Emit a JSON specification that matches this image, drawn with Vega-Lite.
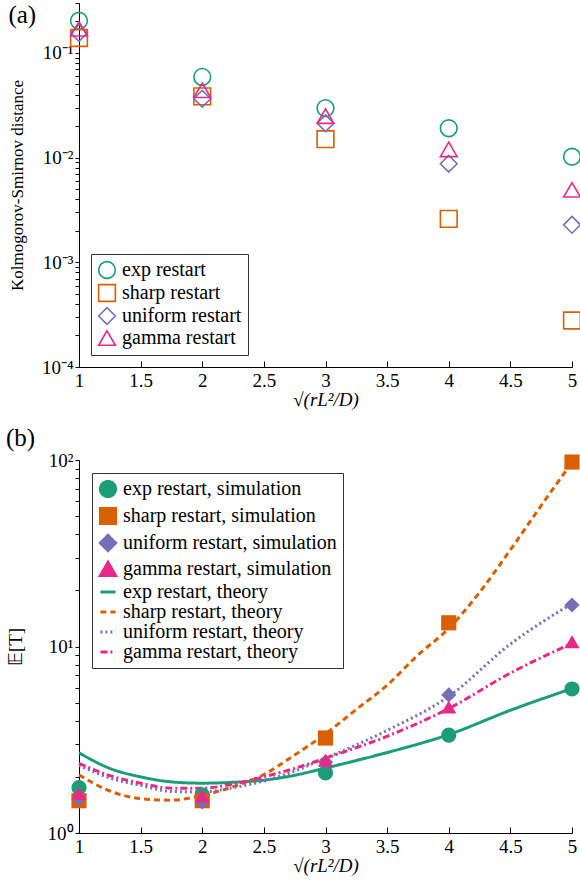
{
  "$schema": "https://vega.github.io/schema/vega-lite/v6.json",
  "background": "white",
  "padding": {"left": 6, "top": 2, "right": 5, "bottom": 5},
  "config": {
    "font": "Liberation Serif",
    "view": {"stroke": null},
    "axis": {
      "grid": false, "domainColor": "black", "tickColor": "black", "labelColor": "black", "titleColor": "black",
      "labelFont": "Liberation Serif", "titleFont": "Liberation Serif", "labelFontSize": 19, "titleFontSize": 19,
      "titleFontWeight": "normal", "domainWidth": 1, "tickWidth": 1, "labelFlush": false
    },
    "legend": {
      "labelFont": "Liberation Serif", "labelFontSize": 20, "labelColor": "black", "strokeColor": "#333",
      "fillColor": "white", "padding": 6, "rowPadding": -1, "labelOffset": 5, "cornerRadius": 0, "labelLimit": 400
    },
    "title": {"font": "Liberation Serif", "fontSize": 25, "fontWeight": "normal", "color": "black", "anchor": "start", "frame": "bounds"}
  },
  "datasets": {
    "ks": [
      {"x": 1, "ks": 0.203, "series": "exp restart"},
      {"x": 2, "ks": 0.059, "series": "exp restart"},
      {"x": 3, "ks": 0.0297, "series": "exp restart"},
      {"x": 4, "ks": 0.0191, "series": "exp restart"},
      {"x": 5, "ks": 0.0102, "series": "exp restart"},
      {"x": 1, "ks": 0.139, "series": "sharp restart"},
      {"x": 2, "ks": 0.0385, "series": "sharp restart"},
      {"x": 3, "ks": 0.015, "series": "sharp restart"},
      {"x": 4, "ks": 0.0026, "series": "sharp restart"},
      {"x": 5, "ks": 0.000278, "series": "sharp restart"},
      {"x": 1, "ks": 0.155, "series": "uniform restart"},
      {"x": 2, "ks": 0.0365, "series": "uniform restart"},
      {"x": 3, "ks": 0.0213, "series": "uniform restart"},
      {"x": 4, "ks": 0.00875, "series": "uniform restart"},
      {"x": 5, "ks": 0.00228, "series": "uniform restart"},
      {"x": 1, "ks": 0.17, "series": "gamma restart"},
      {"x": 2, "ks": 0.044, "series": "gamma restart"},
      {"x": 3, "ks": 0.0249, "series": "gamma restart"},
      {"x": 4, "ks": 0.012, "series": "gamma restart"},
      {"x": 5, "ks": 0.00493, "series": "gamma restart"}
    ],
    "sim": [
      {"x": 1, "t": 1.75, "series": "exp restart, simulation"},
      {"x": 2, "t": 1.6, "series": "exp restart, simulation"},
      {"x": 3, "t": 2.1, "series": "exp restart, simulation"},
      {"x": 4, "t": 3.35, "series": "exp restart, simulation"},
      {"x": 5, "t": 5.92, "series": "exp restart, simulation"},
      {"x": 1, "t": 1.49, "series": "sharp restart, simulation"},
      {"x": 2, "t": 1.49, "series": "sharp restart, simulation"},
      {"x": 3, "t": 3.23, "series": "sharp restart, simulation"},
      {"x": 4, "t": 13.4, "series": "sharp restart, simulation"},
      {"x": 5, "t": 97.5, "series": "sharp restart, simulation"},
      {"x": 1, "t": 1.53, "series": "uniform restart, simulation"},
      {"x": 2, "t": 1.47, "series": "uniform restart, simulation"},
      {"x": 3, "t": 2.4, "series": "uniform restart, simulation"},
      {"x": 4, "t": 5.5, "series": "uniform restart, simulation"},
      {"x": 5, "t": 16.7, "series": "uniform restart, simulation"},
      {"x": 1, "t": 1.63, "series": "gamma restart, simulation"},
      {"x": 2, "t": 1.58, "series": "gamma restart, simulation"},
      {"x": 3, "t": 2.46, "series": "gamma restart, simulation"},
      {"x": 4, "t": 4.74, "series": "gamma restart, simulation"},
      {"x": 5, "t": 10.6, "series": "gamma restart, simulation"}
    ],
    "theory": [
      {"x": 1, "t": 2.69, "series": "exp restart, theory"},
      {"x": 1.25, "t": 2.22, "series": "exp restart, theory"},
      {"x": 1.5, "t": 2.0, "series": "exp restart, theory"},
      {"x": 1.75, "t": 1.88, "series": "exp restart, theory"},
      {"x": 2, "t": 1.85, "series": "exp restart, theory"},
      {"x": 2.25, "t": 1.87, "series": "exp restart, theory"},
      {"x": 2.5, "t": 1.92, "series": "exp restart, theory"},
      {"x": 2.75, "t": 2.04, "series": "exp restart, theory"},
      {"x": 3, "t": 2.23, "series": "exp restart, theory"},
      {"x": 3.5, "t": 2.7, "series": "exp restart, theory"},
      {"x": 4, "t": 3.37, "series": "exp restart, theory"},
      {"x": 4.5, "t": 4.55, "series": "exp restart, theory"},
      {"x": 5, "t": 5.95, "series": "exp restart, theory"},
      {"x": 1, "t": 2.05, "series": "sharp restart, theory"},
      {"x": 1.25, "t": 1.68, "series": "sharp restart, theory"},
      {"x": 1.5, "t": 1.53, "series": "sharp restart, theory"},
      {"x": 1.75, "t": 1.5, "series": "sharp restart, theory"},
      {"x": 2, "t": 1.59, "series": "sharp restart, theory"},
      {"x": 2.25, "t": 1.77, "series": "sharp restart, theory"},
      {"x": 2.5, "t": 2.06, "series": "sharp restart, theory"},
      {"x": 2.75, "t": 2.62, "series": "sharp restart, theory"},
      {"x": 3, "t": 3.4, "series": "sharp restart, theory"},
      {"x": 3.25, "t": 4.6, "series": "sharp restart, theory"},
      {"x": 3.5, "t": 6.2, "series": "sharp restart, theory"},
      {"x": 3.75, "t": 9.0, "series": "sharp restart, theory"},
      {"x": 4, "t": 12.5, "series": "sharp restart, theory"},
      {"x": 4.25, "t": 19.5, "series": "sharp restart, theory"},
      {"x": 4.5, "t": 33, "series": "sharp restart, theory"},
      {"x": 4.75, "t": 57, "series": "sharp restart, theory"},
      {"x": 5, "t": 97, "series": "sharp restart, theory"},
      {"x": 1, "t": 2.31, "series": "uniform restart, theory"},
      {"x": 1.25, "t": 1.97, "series": "uniform restart, theory"},
      {"x": 1.5, "t": 1.8, "series": "uniform restart, theory"},
      {"x": 1.75, "t": 1.67, "series": "uniform restart, theory"},
      {"x": 2, "t": 1.66, "series": "uniform restart, theory"},
      {"x": 2.25, "t": 1.75, "series": "uniform restart, theory"},
      {"x": 2.5, "t": 1.9, "series": "uniform restart, theory"},
      {"x": 2.75, "t": 2.15, "series": "uniform restart, theory"},
      {"x": 3, "t": 2.52, "series": "uniform restart, theory"},
      {"x": 3.5, "t": 3.55, "series": "uniform restart, theory"},
      {"x": 4, "t": 5.4, "series": "uniform restart, theory"},
      {"x": 4.5, "t": 10.3, "series": "uniform restart, theory"},
      {"x": 5, "t": 17, "series": "uniform restart, theory"},
      {"x": 1, "t": 2.36, "series": "gamma restart, theory"},
      {"x": 1.25, "t": 2.03, "series": "gamma restart, theory"},
      {"x": 1.5, "t": 1.85, "series": "gamma restart, theory"},
      {"x": 1.75, "t": 1.74, "series": "gamma restart, theory"},
      {"x": 2, "t": 1.74, "series": "gamma restart, theory"},
      {"x": 2.25, "t": 1.83, "series": "gamma restart, theory"},
      {"x": 2.5, "t": 2.0, "series": "gamma restart, theory"},
      {"x": 2.75, "t": 2.22, "series": "gamma restart, theory"},
      {"x": 3, "t": 2.52, "series": "gamma restart, theory"},
      {"x": 3.5, "t": 3.3, "series": "gamma restart, theory"},
      {"x": 4, "t": 4.65, "series": "gamma restart, theory"},
      {"x": 4.5, "t": 7.2, "series": "gamma restart, theory"},
      {"x": 5, "t": 10.4, "series": "gamma restart, theory"}
    ]
  },
  "columns": 1,
  "align": "none",
  "spacing": 17,
  "resolve": {
    "scale": {"color": "independent", "shape": "independent", "strokeDash": "independent", "x": "independent", "y": "independent"},
    "legend": {"color": "independent", "shape": "independent", "strokeDash": "independent"}
  },
  "concat": [
    {
      "width": 493,
      "height": 364,
      "title": {"text": "(a)", "offset": -25},
      "data": {"name": "ks"},
      "mark": {"type": "point", "filled": false, "size": 280, "strokeWidth": 1.6, "opacity": 1},
      "encoding": {
        "x": {
          "field": "x", "type": "quantitative",
          "scale": {"domain": [1, 5], "nice": false, "zero": false},
          "axis": {"values": [1, 1.5, 2, 2.5, 3, 3.5, 4, 4.5, 5], "format": "~g", "title": "√(rL²/D)", "titleFontStyle": "italic", "tickSize": -6, "labelPadding": 10, "titlePadding": 0}
        },
        "y": {
          "field": "ks", "type": "quantitative",
          "scale": {"type": "log", "domain": [0.0001, 0.3], "nice": false},
          "axis": {
            "values": [0.0001, 0.0002, 0.0003, 0.0004, 0.0005, 0.0006, 0.0007, 0.0008, 0.0009, 0.001, 0.002, 0.003, 0.004, 0.005, 0.006, 0.007, 0.008, 0.009, 0.01, 0.02, 0.03, 0.04, 0.05, 0.06, 0.07, 0.08, 0.09, 0.1, 0.2, 0.3],
            "labelExpr": "(abs(log(datum.value)/LN10 - round(log(datum.value)/LN10)) < 0.001) ? ('10' + (round(log(datum.value)/LN10) < 0 ? '⁻' : '') + ['⁰','¹','²','³','⁴'][abs(round(log(datum.value)/LN10))]) : ''",
            "tickSize": 4, "labelPadding": 2, "title": "Kolmogorov-Smirnov distance", "titleFontSize": 17, "titlePadding": 15
          }
        },
        "color": {
          "field": "series", "type": "nominal",
          "scale": {"domain": ["exp restart", "sharp restart", "uniform restart", "gamma restart"], "range": ["#1b9e77", "#d95f02", "#7570b3", "#e7298a"]},
          "legend": {"title": null, "orient": "bottom-left", "offset": 12, "symbolSize": 280, "symbolStrokeWidth": 1.6}
        },
        "shape": {
          "field": "series", "type": "nominal",
          "scale": {"domain": ["exp restart", "sharp restart", "uniform restart", "gamma restart"], "range": ["circle", "square", "diamond", "triangle-up"]},
          "legend": {"title": null, "orient": "bottom-left", "offset": 12, "symbolSize": 280, "symbolStrokeWidth": 1.6}
        }
      }
    },
    {
      "width": 493,
      "height": 373,
      "title": {"text": "(b)", "offset": 0},
      "layer": [
        {
          "data": {"name": "theory"},
          "mark": {"type": "line", "strokeWidth": 3, "interpolate": "monotone"},
          "encoding": {
            "x": {"field": "x", "type": "quantitative"},
            "y": {"field": "t", "type": "quantitative"},
            "color": {"field": "series", "type": "nominal"},
            "strokeDash": {
              "field": "series", "type": "nominal",
              "scale": {
                "domain": ["exp restart, simulation", "sharp restart, simulation", "uniform restart, simulation", "gamma restart, simulation", "exp restart, theory", "sharp restart, theory", "uniform restart, theory", "gamma restart, theory"],
                "range": [[1, 0], [1, 0], [1, 0], [1, 0], [1, 0], [6, 4], [2, 3], [7, 3, 2, 3]]
              },
              "legend": {"title": null, "orient": "top-left", "offset": 13, "symbolSize": 230, "symbolStrokeWidth": 3}
            }
          }
        },
        {
          "data": {"name": "sim"},
          "mark": {"type": "point", "filled": true, "size": 230, "opacity": 1},
          "encoding": {
            "x": {
              "field": "x", "type": "quantitative",
              "scale": {"domain": [1, 5], "nice": false, "zero": false},
              "axis": {"values": [1, 1.5, 2, 2.5, 3, 3.5, 4, 4.5, 5], "format": "~g", "title": "√(rL²/D)", "titleFontStyle": "italic", "tickSize": -6, "labelPadding": 10, "titlePadding": 0}
            },
            "y": {
              "field": "t", "type": "quantitative",
              "scale": {"type": "log", "domain": [1, 100], "nice": false},
              "axis": {
                "values": [1, 2, 3, 4, 5, 6, 7, 8, 9, 10, 20, 30, 40, 50, 60, 70, 80, 90, 100],
                "labelExpr": "(abs(log(datum.value)/LN10 - round(log(datum.value)/LN10)) < 0.001) ? ('10' + (round(log(datum.value)/LN10) < 0 ? '⁻' : '') + ['⁰','¹','²','³','⁴'][abs(round(log(datum.value)/LN10))]) : ''",
                "tickSize": 4, "labelPadding": 2, "title": "𝔼[T]", "titleFontSize": 19, "titlePadding": 22
              }
            },
            "color": {
              "field": "series", "type": "nominal",
              "scale": {
                "domain": ["exp restart, simulation", "sharp restart, simulation", "uniform restart, simulation", "gamma restart, simulation", "exp restart, theory", "sharp restart, theory", "uniform restart, theory", "gamma restart, theory"],
                "range": ["#1b9e77", "#d95f02", "#7570b3", "#e7298a", "#1b9e77", "#d95f02", "#7570b3", "#e7298a"]
              },
              "legend": {"title": null, "orient": "top-left", "offset": 13, "symbolSize": 230, "symbolStrokeWidth": 3}
            },
            "shape": {
              "field": "series", "type": "nominal",
              "scale": {
                "domain": ["exp restart, simulation", "sharp restart, simulation", "uniform restart, simulation", "gamma restart, simulation", "exp restart, theory", "sharp restart, theory", "uniform restart, theory", "gamma restart, theory"],
                "range": ["circle", "square", "diamond", "triangle-up", "stroke", "stroke", "stroke", "stroke"]
              },
              "legend": {"title": null, "orient": "top-left", "offset": 13, "symbolSize": 230, "symbolStrokeWidth": 3}
            }
          }
        }
      ]
    }
  ]
}
